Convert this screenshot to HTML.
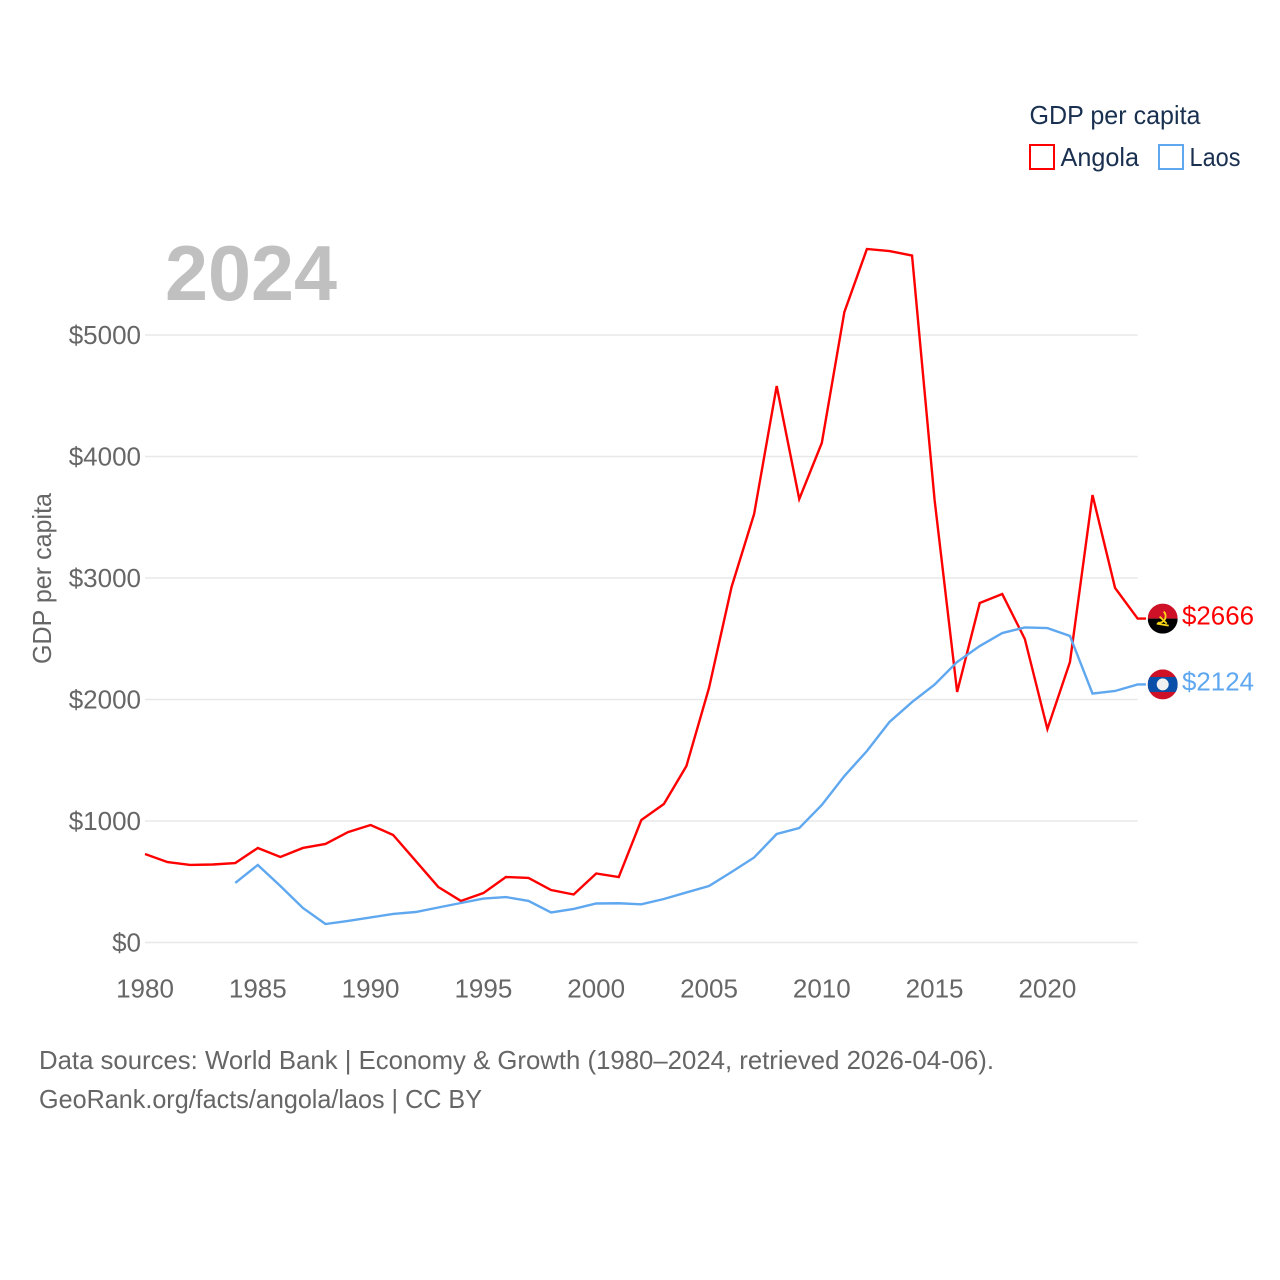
<!DOCTYPE html>
<html lang="en">
<head>
<meta charset="utf-8">
<title>GDP per capita: Angola and Laos</title>
<style>
html,body{margin:0;padding:0;background:#fff;width:1280px;height:1280px;overflow:hidden}
svg{display:block}
text{font-family:"Liberation Sans",sans-serif}
.tick{font-size:26px;fill:#666}
.note{font-size:26px;fill:#666}
.legend{font-size:26px;fill:#1a3050}
.value{font-size:26px}
</style>
</head>
<body>
<svg id="chart" width="1280" height="1280" viewBox="0 0 1280 1280" xmlns="http://www.w3.org/2000/svg">
  <defs>
    <clipPath id="flag-clip-a"><circle cx="0" cy="0" r="15"></circle></clipPath>
    <clipPath id="flag-clip-l"><circle cx="0" cy="0" r="15"></circle></clipPath>
  </defs>
  <g id="grid"></g>
  <text x="165" y="300" font-size="78" font-weight="700" fill="#c0c0c0" textLength="172" lengthAdjust="spacingAndGlyphs">2024</text>
  <g id="yticks"></g>
  <g id="xticks"></g>
  <text class="tick" transform="translate(51,664) rotate(-90)" textLength="171" lengthAdjust="spacingAndGlyphs">GDP per capita</text>
  <g id="lines"></g>
  <g id="flag-angola">
    <g clip-path="url(#flag-clip-a)">
      <rect x="-15" y="-15" width="30" height="15" fill="#ce1126"></rect>
      <rect x="-15" y="0" width="30" height="15" fill="#000"></rect>
    </g>
    <path d="M1 -7 A6.5 6.5 0 0 1 -5 4" fill="none" stroke="#f9d616" stroke-width="1.8"></path>
    <path d="M-6 5 L6 7 M-3 -2 L4 5" fill="none" stroke="#f9d616" stroke-width="1.8"></path>
  </g>
  <g id="flag-laos">
    <g clip-path="url(#flag-clip-l)">
      <rect x="-15" y="-15" width="30" height="30" fill="#ce1126"></rect>
      <rect x="-15" y="-7.5" width="30" height="15" fill="#0a4fa8"></rect>
      <circle cx="0" cy="0" r="6" fill="#f0f0f0"></circle>
    </g>
  </g>
  <text id="value-angola" class="value" x="1182" fill="#ff0000" textLength="72" lengthAdjust="spacingAndGlyphs"></text>
  <text id="value-laos" class="value" x="1182" fill="#5fa8f0" textLength="72" lengthAdjust="spacingAndGlyphs"></text>

  <g>
    <text class="legend" x="1029.5" y="124" textLength="171" lengthAdjust="spacingAndGlyphs">GDP per capita</text>
    <rect x="1030" y="145" width="24" height="24" fill="none" stroke="#ff0000" stroke-width="2"></rect>
    <text class="legend" x="1060.5" y="166" textLength="78.5" lengthAdjust="spacingAndGlyphs">Angola</text>
    <rect x="1159" y="145" width="24" height="24" fill="none" stroke="#5fa8f0" stroke-width="2"></rect>
    <text class="legend" x="1189.5" y="166" textLength="51" lengthAdjust="spacingAndGlyphs">Laos</text>
  </g>

  <text class="note" x="39" y="1069" textLength="955" lengthAdjust="spacingAndGlyphs">Data sources: World Bank | Economy &amp; Growth (1980–2024, retrieved 2026-04-06).</text>
  <text class="note" x="39" y="1108" textLength="443" lengthAdjust="spacingAndGlyphs">GeoRank.org/facts/angola/laos | CC BY</text>
</svg>
<script>
var years = [1980,1981,1982,1983,1984,1985,1986,1987,1988,1989,1990,1991,1992,1993,1994,1995,1996,1997,1998,1999,2000,2001,2002,2003,2004,2005,2006,2007,2008,2009,2010,2011,2012,2013,2014,2015,2016,2017,2018,2019,2020,2021,2022,2023,2024];
var angolaValues = [728,662,638,642,654,778,704,778,811,909,967,885,671,457,342,407,539,531,432,395,568,539,1008,1140,1453,2095,2926,3527,4580,3650,4111,5189,5708,5691,5654,3642,2062,2794,2868,2498,1757,2309,3683,2918,2666];
var laosValues = [null,null,null,null,490,638,465,284,152,177,206,235,251,288,325,362,374,342,247,276,321,323,314,358,412,465,580,700,893,942,1132,1370,1576,1815,1979,2123,2309,2440,2547,2593,2588,2523,2049,2070,2124];
var yTickValues = [0,1000,2000,3000,4000,5000];
var yTickLabels = ["$0","$1000","$2000","$3000","$4000","$5000"];
var xTickValues = [1980,1985,1990,1995,2000,2005,2010,2015,2020];
var xTickLabels = ["1980","1985","1990","1995","2000","2005","2010","2015","2020"];

var NS = "http://www.w3.org/2000/svg";
function xScale(year){ return 145 + (year - 1980) * 22.56; }
function yScale(value){ return 942.5 - value * 0.1215; }

var gridGroup = document.getElementById("grid");
var yTickGroup = document.getElementById("yticks");
var xTickGroup = document.getElementById("xticks");
var lineGroup = document.getElementById("lines");

yTickValues.forEach(function(v, i){
  var gl = document.createElementNS(NS, "line");
  gl.setAttribute("x1", xScale(1980));
  gl.setAttribute("x2", xScale(2024));
  gl.setAttribute("y1", yScale(v));
  gl.setAttribute("y2", yScale(v));
  gl.setAttribute("stroke", "#e8e8e8");
  gl.setAttribute("stroke-width", "1.4");
  
  
  gridGroup.appendChild(gl);

  var t = document.createElementNS(NS, "text");
  t.setAttribute("class", "tick");
  t.setAttribute("x", 141);
  t.setAttribute("y", yScale(v) + 9);
  t.setAttribute("text-anchor", "end");
  t.textContent = yTickLabels[i];
  
  
  yTickGroup.appendChild(t);
});

xTickValues.forEach(function(v, i){
  var t = document.createElementNS(NS, "text");
  t.setAttribute("class", "tick");
  t.setAttribute("x", xScale(v));
  t.setAttribute("y", 997.5);
  t.setAttribute("text-anchor", "middle");
  t.textContent = xTickLabels[i];
  
  
  xTickGroup.appendChild(t);
});

function pathFor(values){
  var d = "";
  values.forEach(function(v, i){
    if (v === null) return;
    d += (d ? "L" : "M") + xScale(years[i]).toFixed(2) + " " + yScale(v).toFixed(2);
  });
  return d;
}
function lastOf(values){ return values[values.length - 1]; }

var angolaLine = document.createElementNS(NS, "path");
angolaLine.setAttribute("d", pathFor(angolaValues) + "L1146 " + yScale(lastOf(angolaValues)).toFixed(2));
angolaLine.setAttribute("fill", "none");
angolaLine.setAttribute("stroke", "#ff0000");
angolaLine.setAttribute("stroke-width", "2.4");


lineGroup.appendChild(angolaLine);

var laosLine = document.createElementNS(NS, "path");
laosLine.setAttribute("d", pathFor(laosValues) + "L1146 " + yScale(lastOf(laosValues)).toFixed(2));
laosLine.setAttribute("fill", "none");
laosLine.setAttribute("stroke", "#5fa8f0");
laosLine.setAttribute("stroke-width", "2.4");


lineGroup.appendChild(laosLine);

var ya = yScale(lastOf(angolaValues));
var yl = yScale(lastOf(laosValues));
document.getElementById("flag-angola").setAttribute("transform", "translate(1162.7," + ya + ")");
document.getElementById("flag-laos").setAttribute("transform", "translate(1162.7," + yl + ")");
var va = document.getElementById("value-angola");
va.setAttribute("y", ya + 6);
va.textContent = "$" + lastOf(angolaValues);
var vl = document.getElementById("value-laos");
vl.setAttribute("y", yl + 6);
vl.textContent = "$" + lastOf(laosValues);
</script>
</body>
</html>
